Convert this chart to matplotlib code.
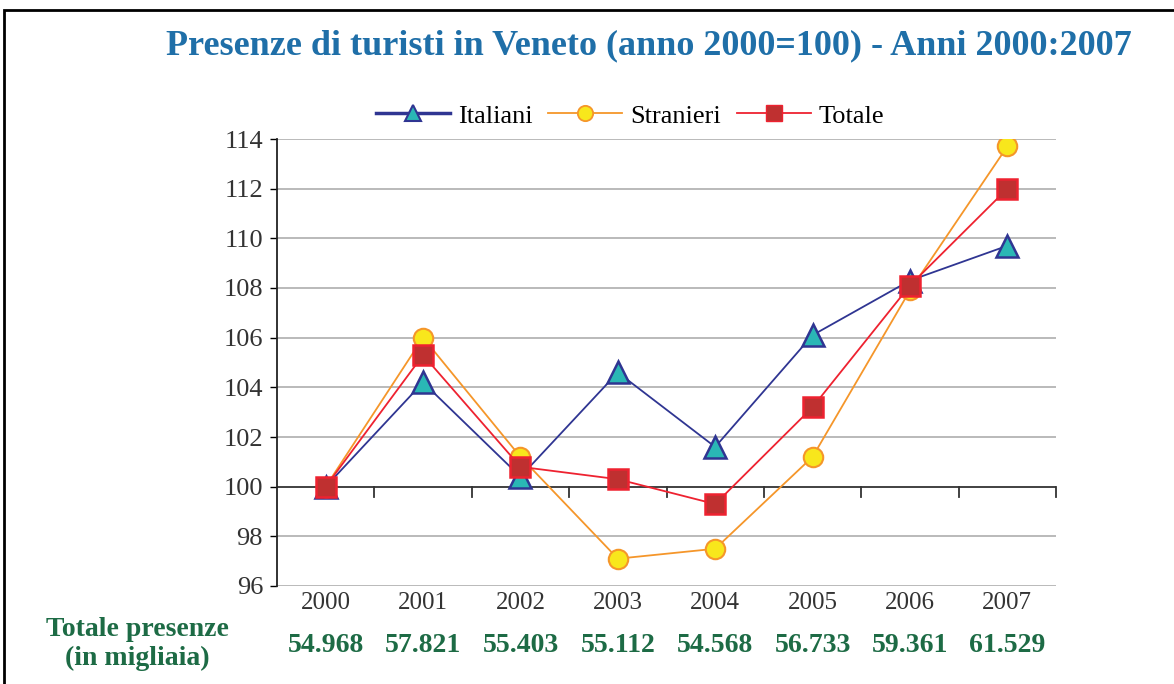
import matplotlib
matplotlib.use("Agg")
import matplotlib.pyplot as plt
import matplotlib.patches as mpatches
from matplotlib.lines import Line2D
import numpy as np

plt.rcParams["font.family"] = ["Liberation Serif", "DejaVu Serif"]

# ── Data ──────────────────────────────────────────────────────────────────────
years      = ["2000", "2001", "2002", "2003", "2004", "2005", "2006", "2007"]
italiani   = [100.0, 104.2, 100.4, 104.6, 101.6, 106.1, 108.3, 109.7]
stranieri  = [100.0, 106.0, 101.2, 97.1, 97.5, 101.2, 107.9, 113.7]
totale     = [100.0, 105.3, 100.8, 100.3, 99.3, 103.2, 108.1, 112.0]
presenze   = ["54.968", "57.821", "55.403", "55.112", "54.568", "56.733", "59.361", "61.529"]

TITLE_BLUE = "#1f6fa8"
GREEN_TXT  = "#1d6b45"
NAVY   = "#2f3592"
TEAL   = "#2ab7b5"
ORANGE = "#f5962a"
YELLOW = "#f8e71c"
RED    = "#ee2230"
DKRED  = "#bf3030"
GRID   = "#b4b4b4"
TXT    = "#333333"

W, H = 1174, 684
fig = plt.figure(figsize=(W / 100, H / 100), dpi=100)
fig.patch.set_facecolor("white")

# outer frame
fig.patches.append(mpatches.Rectangle((4 / W, -0.1), 1.2, 1 - 10 / H + 0.1,
                                      transform=fig.transFigure, fill=False,
                                      edgecolor="black", linewidth=2))

ax = fig.add_axes([277 / W, 1 - 586 / H, (1056 - 277) / W, (586 - 139) / H])
x = np.arange(len(years))

ax.plot(x, italiani, color=NAVY, linewidth=1.3, marker="^", markersize=16,
        markerfacecolor=TEAL, markeredgecolor=NAVY, markeredgewidth=1.8, zorder=4)
ax.plot(x, stranieri, color=ORANGE, linewidth=1.3, marker="o", markersize=14,
        markerfacecolor=YELLOW, markeredgecolor=ORANGE, markeredgewidth=1.5, zorder=5)
ax.plot(x, totale, color=RED, linewidth=1.3, marker="s", markersize=15,
        markerfacecolor=DKRED, markeredgecolor=RED, markeredgewidth=1.8, zorder=6)

ax.set_xlim(-0.5, 7.5)
ax.set_ylim(96, 114)
ax.set_yticks(np.arange(96, 115, 2))
ax.tick_params(axis="y", labelsize=19, direction="out", length=5, width=1,
               colors="black", labelcolor=TXT, pad=5)
for v in np.arange(96, 115, 2):
    if v != 100:
        ax.axhline(v, color=GRID, linewidth=1.3, zorder=1)
ax.axhline(100, color=TXT, linewidth=1.3, zorder=2)
for xb in np.arange(0.5, 8, 1):
    ax.plot([xb, xb], [100, 99.6], color=TXT, linewidth=1.3, zorder=2, clip_on=False)

for s in ["top", "right", "bottom"]:
    ax.spines[s].set_visible(False)
ax.spines["left"].set_color("#222222")
ax.spines["left"].set_linewidth(1.3)

ax.set_xticks(x)
ax.set_xticklabels(years, fontsize=18, color=TXT)
ax.tick_params(axis="x", length=0, pad=4)

# bottom row of totals
for i, val in enumerate(presenze):
    ax.text(x[i], -0.134, val, transform=ax.get_xaxis_transform(), ha="center", va="center",
            fontsize=20, fontweight="bold", color=GREEN_TXT)
fig.text(137 / W, 1 - 629 / H, "Totale presenze", ha="center", va="center",
         fontsize=20, fontweight="bold", color=GREEN_TXT)
fig.text(137 / W, 1 - 658 / H, "(in migliaia)", ha="center", va="center",
         fontsize=20, fontweight="bold", color=GREEN_TXT)

fig.text(649 / W, 1 - 46 / H, "Presenze di turisti in Veneto (anno 2000=100) - Anni 2000:2007",
         ha="center", va="center", fontsize=26, fontweight="bold", color=TITLE_BLUE)

handles = [
    Line2D([], [], color=NAVY, linewidth=2.5, marker="^", markersize=12,
           markerfacecolor=TEAL, markeredgecolor=NAVY, markeredgewidth=1.5),
    Line2D([], [], color=ORANGE, linewidth=1.3, marker="o", markersize=11,
           markerfacecolor=YELLOW, markeredgecolor=ORANGE, markeredgewidth=1.3),
    Line2D([], [], color=RED, linewidth=1.3, marker="s", markersize=11,
           markerfacecolor=DKRED, markeredgecolor=RED, markeredgewidth=1.0),
]
fig.legend(handles, ["Italiani", "Stranieri", "Totale"], ncol=3, frameon=False,
           loc="center", bbox_to_anchor=(630 / W, 1 - 116 / H), fontsize=19,
           handlelength=2.8, handletextpad=0.3, columnspacing=0.6)

plt.savefig("out.png", dpi=100)
